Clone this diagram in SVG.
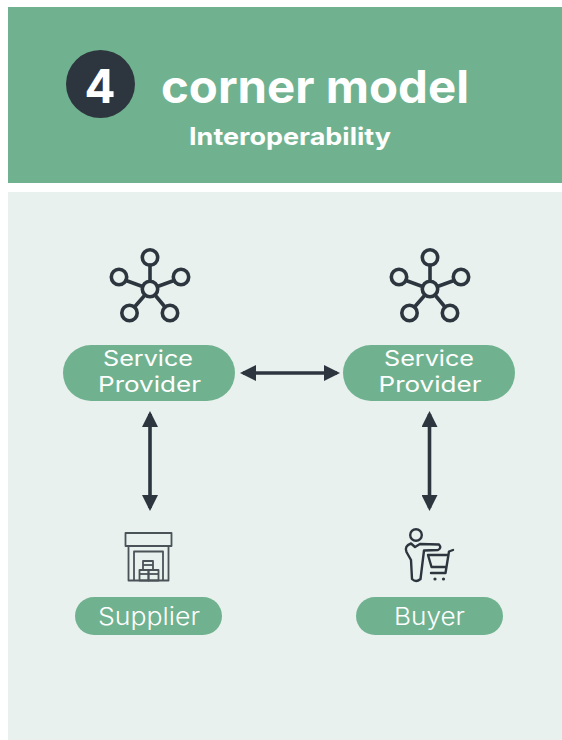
<svg xmlns="http://www.w3.org/2000/svg" width="562" height="740" viewBox="0 0 562 740">
<style>
.pill{fill:#70b28f}
.lbl{font-family:Inter,"Liberation Sans",Arial,sans-serif;font-size:21.500px;font-weight:400;fill:#fff;text-anchor:middle}
.lg{font-size:24px;font-weight:300}
.ttl{font-family:Inter,"Liberation Sans",Arial,sans-serif;font-weight:700;fill:#fff;text-anchor:middle}
.ic{fill:none;stroke:#2d363f;stroke-width:3.600;stroke-linecap:round;stroke-linejoin:round}
.thin{fill:none;stroke:#4a5358;stroke-width:1.800;stroke-linejoin:round}
.con{stroke:#2d363f;stroke-width:3.600;fill:none;marker-start:url(#ah);marker-end:url(#ah)}
</style>
<defs>
<marker id="ah" viewBox="0 0 16 16" refX="13" refY="8" markerWidth="16" markerHeight="16" markerUnits="userSpaceOnUse" orient="auto-start-reverse"><path d="M0 0L16 8L0 16Z" fill="#2d363f"/></marker>
<g id="hub"><circle cx="0" cy="-31.500" r="7.700"/><circle cx="-31" cy="-12" r="7.700"/><circle cx="31" cy="-12" r="7.700"/><circle cx="-20.500" cy="24" r="7.700"/><circle cx="20" cy="24" r="7.700"/><circle cx="0" cy="0" r="7.700"/><path d="M0 -24V-8M-24 -8.500L-7.500 -2.500M24 -8.500L7.500 -2.500M-15.500 18L-5 6M15 18L5 6"/></g>
</defs>
<rect width="562" height="740" fill="#fff"/>
<rect x="8" y="192" width="554" height="548" fill="#e8f1ed"/>
<g id="header">
<rect x="8" y="7" width="554" height="176" fill="#70b28f"/>
<ellipse cx="100.500" cy="84" rx="34.500" ry="34" fill="#2d363f"/>
<text class="ttl" x="100" y="103" font-size="47" textLength="31" lengthAdjust="spacingAndGlyphs">4</text>
<text class="ttl" x="315" y="103" font-size="45" textLength="308" lengthAdjust="spacingAndGlyphs">corner model</text>
<text class="ttl" x="290" y="145" font-size="24" textLength="202" lengthAdjust="spacingAndGlyphs">Interoperability</text>
</g>
<g id="connectors">
<path class="con" d="M243 373H337"/>
<path class="con" d="M150 414V508"/>
<path class="con" d="M429.500 414V508"/>
</g>
<g id="sp-left">
<use href="#hub" x="150" y="289" class="ic"/>
<rect class="pill" x="63" y="345" width="172" height="56" rx="28"/>
<text class="lbl" x="148" y="365.500" textLength="90" lengthAdjust="spacingAndGlyphs">Service</text><text class="lbl" x="149.500" y="392" textLength="103" lengthAdjust="spacingAndGlyphs">Provider</text>
</g>
<g id="sp-right">
<use href="#hub" x="430" y="289" class="ic"/>
<rect class="pill" x="343" y="345" width="172" height="56" rx="28"/>
<text class="lbl" x="429" y="365.500" textLength="90" lengthAdjust="spacingAndGlyphs">Service</text><text class="lbl" x="430" y="392" textLength="103" lengthAdjust="spacingAndGlyphs">Provider</text>
</g>
<g id="supplier">
<g class="thin">
<rect x="125.500" y="533" width="46" height="13"/>
<path d="M128.500 546V580.500H168.500V546"/>
<path d="M134 580.500V551.500H163V580.500"/>
<rect x="143" y="561" width="10" height="9"/><path d="M143 565H153"/>
<rect x="139.500" y="570" width="9" height="10.500"/><rect x="148.500" y="570" width="10" height="10.500"/>
<path d="M139.500 574H158.500"/>
</g>
<rect class="pill" x="75" y="597" width="147" height="38" rx="19"/>
<text class="lbl lg" x="149" y="625" textLength="102" lengthAdjust="spacingAndGlyphs">Supplier</text>
</g>
<g id="buyer">
<g class="ic" style="stroke-width:2.400">
<circle cx="416" cy="535" r="5.800"/>
<path d="M411 543.500L415 547L420 544L439 544.500Q442 548 438 550L424 550.500L420.500 579Q416 583 412 579L411 560L406.500 552Q404 546 411 543.500Z"/>
<path d="M428 555H448M428 555L431.500 567H445.500M453 550L449 551.500L445.500 573H431"/>
</g>
<circle cx="435" cy="579" r="1.600" fill="#2d363f"/><circle cx="443.500" cy="579" r="1.600" fill="#2d363f"/>
<rect class="pill" x="356" y="597" width="147" height="38" rx="19"/>
<text class="lbl lg" x="429.500" y="625" textLength="71" lengthAdjust="spacingAndGlyphs">Buyer</text>
</g>
</svg>
